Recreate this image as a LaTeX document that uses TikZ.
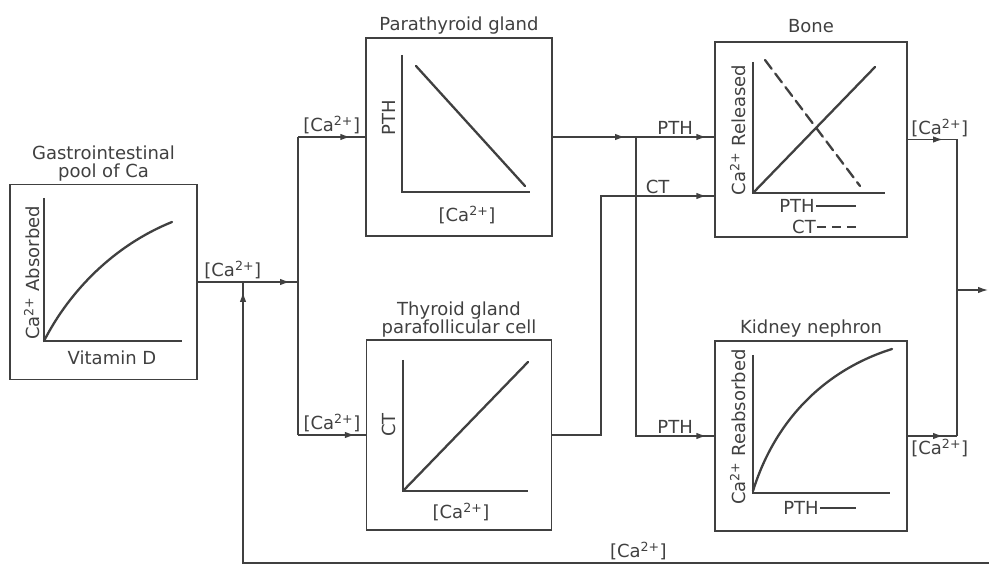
\documentclass[tikz,border=0pt]{standalone}
\usepackage{fontspec}
\setmainfont{DejaVu Sans}
\usetikzlibrary{positioning,arrows.meta}

\tikzset{
    panel/.style={draw, line width=1.3pt, inner sep=0pt},
    axis/.style={line width=1.3pt},
    curve/.style={line width=2.3pt, line cap=round},
    flow/.style={line width=1.3pt},
    into/.style={-{Latex[length=10pt, width=6.5pt]}},
    before/.style={postaction={draw, into, shorten >=#1}},
    title/.style={align=center, inner sep=1pt},
    lbl/.style={inner sep=2pt},
}
\newcommand{\caion}{[Ca\textsuperscript{2+}]}

\begin{document}
\begin{tikzpicture}[x=1pt, y=-1pt, color=black!75,
        every node/.style={font=\fontsize{18}{18}\selectfont}]
    \useasboundingbox (0,0) rectangle (989,572);

    % boxes
    \node[panel, minimum width=187pt, minimum height=195pt] (gi) at (103.5,282) {};
    \node[panel, minimum width=186pt, minimum height=198pt] (para) at (459,137) {};
    \node[panel, minimum width=185pt, minimum height=190pt] (thy) at (459,435) {};
    \node[panel, minimum width=192pt, minimum height=195pt] (bone) at (811,139.5) {};
    \node[panel, minimum width=192pt, minimum height=190pt] (kid) at (811,436) {};

    \node[title, above=1pt of gi] {Gastrointestinal\\pool of Ca};
    \node[title, above=2pt of para] {Parathyroid gland};
    \node[title, above=1pt of thy] {Thyroid gland\\parafollicular cell};
    \node[title, above=7pt of bone] {Bone};
    \node[title, above=2pt of kid] {Kidney nephron};

    % gastrointestinal plot
    \draw[axis] (44,198) -- (44,341) -- (182,341);
    \draw[curve] (44,341) .. controls (70,290) and (115,245) .. (172,222);
    \node[rotate=90] at (32,273) {Ca\textsuperscript{2+} Absorbed};
    \node at (112,358) {Vitamin D};

    % parathyroid plot
    \draw[axis] (402,55) -- (402,192) -- (530,192);
    \draw[curve] (416,66) -- (525,186);
    \node[rotate=90] at (389,118) {PTH};
    \node at (467,215) {\caion};

    % thyroid plot
    \draw[axis] (403,360) -- (403,491) -- (528,491);
    \draw[curve] (403,491) -- (528,362);
    \node[rotate=90] at (389,425) {CT};
    \node at (461,512) {\caion};

    % bone plot
    \draw[axis] (753,62) -- (753,193) -- (885,193);
    \draw[curve] (753,193) -- (875,67);
    \draw[curve, dash pattern=on 11pt off 6pt] (765,60) -- (860,186);
    \node[rotate=90] at (738,130) {Ca\textsuperscript{2+} Released};
    \node[inner sep=1pt] (legpth) at (797,206) {PTH};
    \draw[axis] (legpth.east) -- ++(40,0);
    \node[inner sep=1pt] (legct) at (804,227) {CT};
    \draw[axis, dash pattern=on 9pt off 6pt] (legct.east) -- ++(44,0);

    % kidney plot
    \draw[axis] (753,355) -- (753,493) -- (890,493);
    \draw[curve] (753,491) .. controls (775,420) and (825,370) .. (892,349);
    \node[rotate=90] at (738,427) {Ca\textsuperscript{2+} Reabsorbed};
    \node[inner sep=1pt] (legkid) at (801,508) {PTH};
    \draw[axis] (legkid.east) -- ++(36,0);

    % junctions
    \coordinate (split) at (298,282);
    \coordinate (fb) at (243,282);
    \coordinate (fbend) at (243,563);
    \coordinate (edge) at (989,563);
    \coordinate (pth) at (636,137);
    \coordinate (ctup) at (601,196);
    \coordinate (join) at (957,290);
    \coordinate (out) at (988,290);

    % connectors
    \draw[flow, before=8pt] (gi.east) -- node[lbl, above, pos=0.35] {\caion} (split);
    \draw[flow] (split |- para.west) -- (split |- thy.west);
    \draw[flow, before=15pt] (split |- para.west) -- node[lbl, above] {\caion} (para.west);
    \draw[flow, before=11pt] (split |- thy.west) -- node[lbl, above] {\caion} (thy.west);
    \draw[flow, before=10pt] (edge) -- node[lbl, above, pos=0.47] {\caion} (fbend) -- (fb);

    \draw[flow, before=11pt] (para.east) -- (pth);
    \draw[flow, before=8pt] (pth) -- node[lbl, above] {PTH} (bone.west |- pth);
    \draw[flow, before=8pt] (pth) |- node[lbl, above, pos=0.75] {PTH} (kid.west);
    \draw[flow, before=8pt] (thy.east) -| (ctup) -- node[lbl, above] {CT} (bone.west |- ctup);

    \draw[flow, before=14pt] (bone.east) -- node[lbl, above, pos=0.65] {\caion} (bone.east -| join);
    \draw[flow, before=14pt] (kid.east) -- node[lbl, below, pos=0.65] {\caion} (kid.east -| join);
    \draw[flow] (bone.east -| join) -- (kid.east -| join);
    \draw[flow, into] (join) -- (out);
\end{tikzpicture}
\end{document}
